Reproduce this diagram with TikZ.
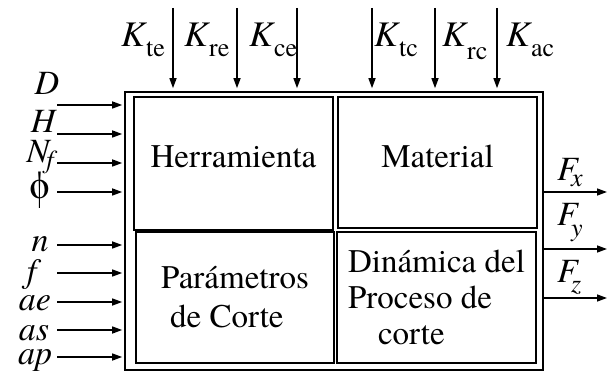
\documentclass[tikz,border=0pt]{standalone}
\usepackage{fontspec}
\setmainfont{texgyretermes}[Extension=.otf,UprightFont=*-regular,ItalicFont=*-italic,BoldFont=*-bold,BoldItalicFont=*-bolditalic]
\usetikzlibrary{arrows.meta}
\newcommand{\sbs}[2][-9pt]{\raisebox{#1}{\fontsize{26}{26}\selectfont #2}}
\newcommand{\Kc}[1]{\textit{K}\kern-1pt\sbs[-10pt]{#1}}

\begin{document}
\begin{tikzpicture}[x=1pt,y=-1pt]
    \tikzstyle{every node}=[inner sep=0pt,font=\fontsize{33}{39}\selectfont];
    \tikzstyle{block}=[draw,line width=2pt,minimum width=199pt,minimum height=131pt,align=left];
    \tikzstyle{arr}=[-{Triangle[length=10pt,width=7pt]},line width=1.4pt];
    \tikzstyle{lbl}=[anchor=base,font=\fontsize{34}{34}\selectfont];
    \tikzstyle{klbl}=[anchor=base west,font=\fontsize{36}{36}\selectfont];
    \useasboundingbox (0,0) rectangle (610,379);

    % boxes
    \node at (334, 231) (sistema) [draw,line width=1.6pt,minimum width=418pt,minimum height=278pt] {};
    \node at (233.5, 163.5) (herr) [block,minimum height=133pt,text depth=13pt] {Herramienta};
    \node at (437.5, 162.5) (mat) [block,text depth=13pt] {Material};
    \node at (235, 297.5) (param) [block,minimum width=198pt] {Parámetros\\\hspace*{9pt}de Corte};
    \node at (436.5, 297.5) (dinam) [block,font=\fontsize{33}{36}\selectfont] {Dinámica del\\Proceso de\\\hspace*{30pt}corte};

    % coefficients (top)
    \coordinate (kte) at (173, 8);
    \coordinate (kre) at (237, 8);
    \coordinate (kce) at (297, 8);
    \coordinate (ktc) at (372, 8);
    \coordinate (krc) at (435, 8);
    \coordinate (kac) at (497, 8);
    \node at (121, 47) (lkte) [klbl] {\Kc{te}};
    \node at (184, 47) (lkre) [klbl] {\Kc{re}};
    \node at (249, 47) (lkce) [klbl] {\Kc{ce}};
    \node at (374, 47) (lktc) [klbl] {\Kc{tc}};
    \node at (442, 47) (lkrc) [klbl] {\textit{K}\kern-1pt\sbs[-13pt]{rc}};
    \node at (506, 47) (lkac) [klbl] {\Kc{ac}};
    \draw[arr,shorten >=3pt] (kte) to (kte |- sistema.north);
    \draw[arr,shorten >=3pt] (kre) to (kre |- sistema.north);
    \draw[arr,shorten >=3pt] (kce) to (kce |- sistema.north);
    \draw[arr,shorten >=3pt] (ktc) to (ktc |- sistema.north);
    \draw[arr,shorten >=3pt] (krc) to (krc |- sistema.north);
    \draw[arr,shorten >=3pt] (kac) to (kac |- sistema.north);

    % inputs (left)
    \coordinate (iD) at (57, 105);
    \coordinate (iH) at (57, 134);
    \coordinate (iN) at (57, 163);
    \coordinate (iphi) at (57, 192);
    \coordinate (in) at (57, 245);
    \coordinate (if) at (57, 273);
    \coordinate (iae) at (57, 302);
    \coordinate (ias) at (57, 330);
    \coordinate (iap) at (57, 357);
    \node at (47, 95) (lD) [lbl] {\textit{D}};
    \node at (44, 133) (lH) [lbl] {\textit{H}};
    \node at (42, 163) (lN) [lbl] {\textit{N}\kern-5pt\sbs[-6pt]{\textit{f}}};
    \node at (40, 190) (lphi) [anchor=center,font=\fontsize{40}{40}\selectfont] {ϕ};
    \node at (40, 252) (ln) [lbl] {\textit{n}};
    \node at (34, 282) (lf) [lbl] {\textit{f}};
    \node at (35, 310) (lae) [lbl] {\textit{ae}};
    \node at (34, 340) (las) [lbl] {\textit{as}};
    \node at (35, 364) (lap) [lbl] {\textit{ap}};
    \draw[arr,shorten >=2pt] (iD) to (iD -| sistema.west);
    \draw[arr,shorten >=2pt] (iH) to (iH -| sistema.west);
    \draw[arr,shorten >=2pt] (iN) to (iN -| sistema.west);
    \draw[arr,shorten >=2pt] (iphi) to (iphi -| sistema.west);
    \draw[arr,shorten >=2pt] (in) to (in -| sistema.west);
    \draw[arr,shorten >=2pt] (if) to (if -| sistema.west);
    \draw[arr,shorten >=2pt] (iae) to (iae -| sistema.west);
    \draw[arr,shorten >=2pt] (ias) to (ias -| sistema.west);
    \draw[arr,shorten >=2pt] (iap) to (iap -| sistema.west);

    % forces (right)
    \coordinate (oFx) at (607, 192);
    \coordinate (oFy) at (607, 249);
    \coordinate (oFz) at (607, 298);
    \node at (557, 181) (lFx) [lbl,anchor=base west] {\textit{F}\kern-8pt\sbs[-6pt]{\textit{x}}};
    \node at (557, 226) (lFy) [lbl,anchor=base west] {\textit{F}\kern-8pt\sbs[-10pt]{\textit{y}}};
    \node at (557, 282) (lFz) [lbl,anchor=base west] {\textit{F}\kern-8pt\sbs[-10pt]{\textit{z}}};
    \draw[arr] (oFx -| sistema.east) to (oFx);
    \draw[arr] (oFy -| sistema.east) to (oFy);
    \draw[arr] (oFz -| sistema.east) to (oFz);
\end{tikzpicture}
\end{document}
